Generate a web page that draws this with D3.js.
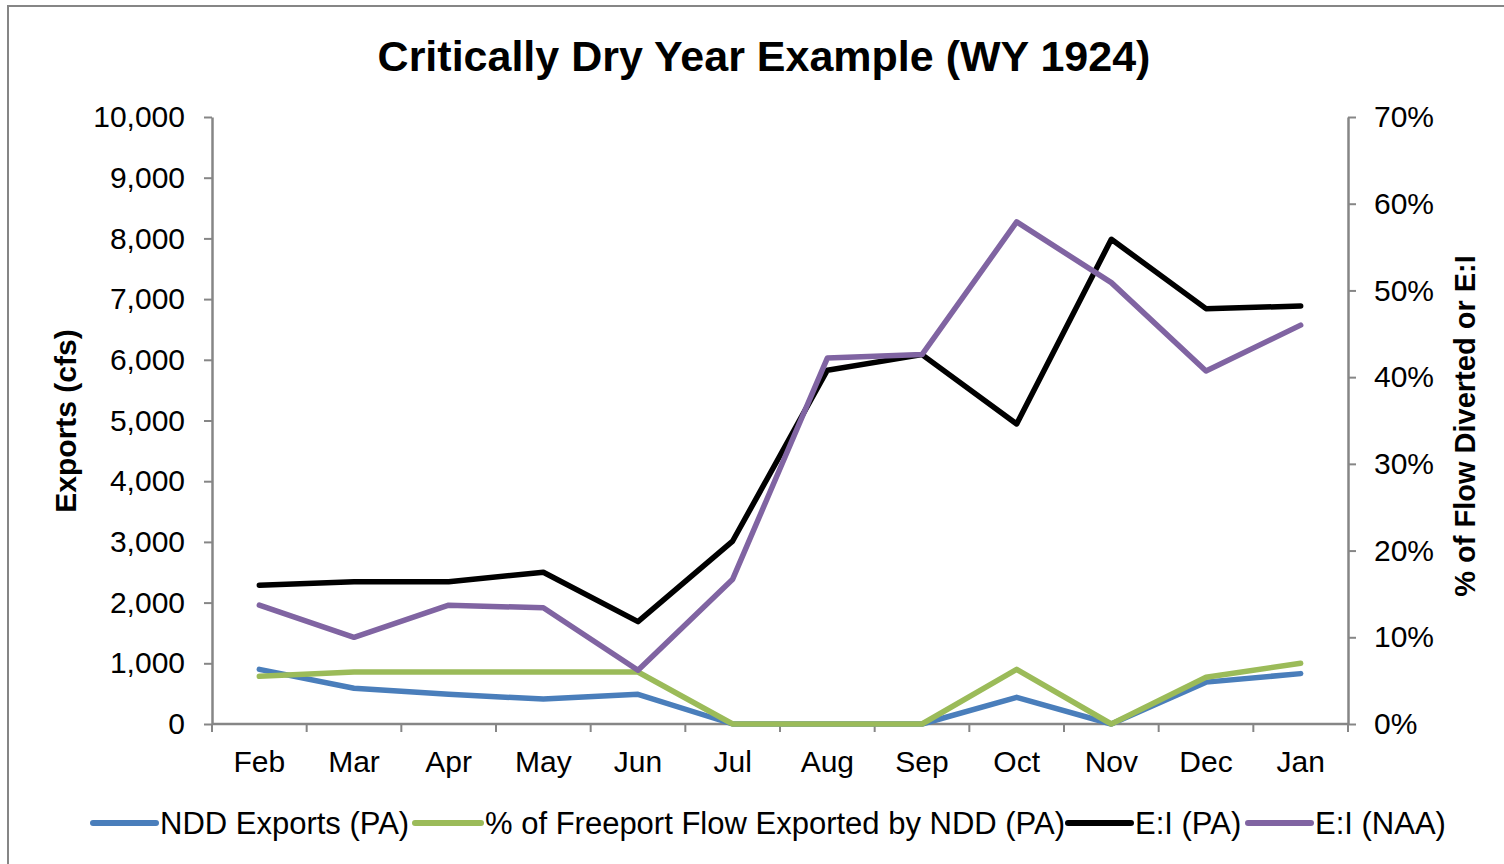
<!DOCTYPE html>
<html>
<head>
<meta charset="utf-8">
<script src="https://cdn.jsdelivr.net/npm/d3@7"></script>
<style>
  body { margin: 0; background: #fff; }
  text { font-family: "Liberation Sans", Arial, sans-serif; fill: #000; }
</style>
</head>
<body>
<div id="chart"></div>
<script>
var months = ['Feb', 'Mar', 'Apr', 'May', 'Jun', 'Jul', 'Aug', 'Sep', 'Oct', 'Nov', 'Dec', 'Jan'];
// left axis (cfs)
var nddExports = [900, 590, 490, 410, 490, 0, 0, 0, 440, 0, 690, 830];
// right axis (fraction)
var freeportPct = [0.055, 0.060, 0.060, 0.060, 0.060, 0, 0, 0, 0.063, 0, 0.054, 0.070];
var eiPA = [0.160, 0.164, 0.164, 0.175, 0.118, 0.211, 0.408, 0.426, 0.346, 0.559, 0.479, 0.482];
var eiNAA = [0.137, 0.100, 0.137, 0.134, 0.062, 0.167, 0.422, 0.426, 0.579, 0.509, 0.407, 0.460];
var leftTicks = [0, 1000, 2000, 3000, 4000, 5000, 6000, 7000, 8000, 9000, 10000];
var rightTicks = [0, 0.1, 0.2, 0.3, 0.4, 0.5, 0.6, 0.7];

var series = [
  { name: 'NDD Exports (PA)', values: nddExports, axis: 'left', color: '#4a7ebb' },
  { name: '% of Freeport Flow Exported by NDD (PA)', values: freeportPct, axis: 'right', color: '#9bbb59' },
  { name: 'E:I (PA)', values: eiPA, axis: 'right', color: '#000000' },
  { name: 'E:I (NAA)', values: eiNAA, axis: 'right', color: '#8064a2' }
];

var width = 1504, height = 864;
var plotLeft = 212, plotRight = 1348, plotTop = 117, plotBottom = 724;
var gray = '#868686';

var svg = d3.select('#chart').append('svg')
      .attr('width', width)
      .attr('height', height);

// outer frame
svg.append('rect')
  .attr('x', 8).attr('y', 6)
  .attr('width', 1520).attr('height', 880)
  .attr('fill', 'none')
  .attr('stroke', gray)
  .attr('stroke-width', 2);

var x = d3.scaleBand().domain(months).range([plotLeft, plotRight]);
var yLeft = d3.scaleLinear().domain([0, 10000]).range([plotBottom, plotTop]);
var yRight = d3.scaleLinear().domain([0, 0.7]).range([plotBottom, plotTop]);

// title
svg.append('text')
  .attr('x', 764).attr('y', 71)
  .attr('text-anchor', 'middle')
  .style('font-size', '43px')
  .style('font-weight', 'bold')
  .text('Critically Dry Year Example (WY 1924)');

function styleAxis (g) {
  g.select('.domain').attr('stroke', gray).attr('stroke-width', 2.5);
  g.selectAll('.tick line').attr('stroke', gray).attr('stroke-width', 2);
  g.selectAll('.tick text')
    .style('font-size', '30px')
    .style('font-family', '"Liberation Sans", Arial, sans-serif')
    .attr('fill', '#000');
}

// left axis
svg.append('g')
  .attr('transform', 'translate(' + plotLeft + ',0)')
  .call(d3.axisLeft(yLeft).tickValues(leftTicks).tickFormat(d3.format(',')).tickSize(8).tickPadding(19).tickSizeOuter(0))
  .call(styleAxis);

// right axis
svg.append('g')
  .attr('transform', 'translate(' + plotRight + ',0)')
  .call(d3.axisRight(yRight).tickValues(rightTicks).tickFormat(d3.format('.0%')).tickSize(8).tickPadding(18).tickSizeOuter(0))
  .call(styleAxis);

// x axis: ticks at category boundaries
var xg = svg.append('g')
  .attr('transform', 'translate(0,' + plotBottom + ')');
xg.append('line')
  .attr('x1', plotLeft).attr('x2', plotRight)
  .attr('stroke', gray).attr('stroke-width', 2.5);
var bounds = months.map(function (m) { return x(m); }).concat([plotRight]);
xg.selectAll('.xtick').data(bounds).enter().append('line')
  .attr('class', 'xtick')
  .attr('x1', function (d) { return d; }).attr('x2', function (d) { return d; })
  .attr('y1', 0).attr('y2', 8)
  .attr('stroke', gray).attr('stroke-width', 2);
xg.selectAll('.xlabel').data(months).enter().append('text')
  .attr('class', 'xlabel')
  .attr('x', function (d) { return x(d) + x.bandwidth() / 2; })
  .attr('y', 48)
  .attr('text-anchor', 'middle')
  .style('font-size', '30px')
  .text(function (d) { return d; });

// axis titles
svg.append('text')
  .attr('transform', 'translate(76,421) rotate(-90)')
  .attr('text-anchor', 'middle')
  .style('font-size', '30px')
  .style('font-weight', 'bold')
  .text('Exports (cfs)');
svg.append('text')
  .attr('transform', 'translate(1475,426) rotate(-90)')
  .attr('text-anchor', 'middle')
  .style('font-size', '29px')
  .style('font-weight', 'bold')
  .text('% of Flow Diverted or E:I');

// lines
series.forEach(function (s) {
  var yScale = s.axis === 'left' ? yLeft : yRight;
  var line = d3.line()
        .x(function (d, i) { return x(months[i]) + x.bandwidth() / 2; })
        .y(function (d) { return yScale(d); });
  svg.append('path')
    .datum(s.values)
    .attr('d', line)
    .attr('fill', 'none')
    .attr('stroke', s.color)
    .attr('stroke-width', 5.5)
    .attr('stroke-linejoin', 'round')
    .attr('stroke-linecap', 'round');
});

// legend
var legendPos = [
  { lx: 93, tx: 160 },
  { lx: 415, tx: 485 },
  { lx: 1068, tx: 1135 },
  { lx: 1248, tx: 1315 }
];
var legend = svg.append('g').attr('class', 'legend');
series.forEach(function (s, i) {
  var p = legendPos[i];
  legend.append('line')
    .attr('x1', p.lx).attr('x2', p.tx - 4)
    .attr('y1', 823).attr('y2', 823)
    .attr('stroke', s.color)
    .attr('stroke-width', 6)
    .attr('stroke-linecap', 'round');
  legend.append('text')
    .attr('x', p.tx).attr('y', 834)
    .style('font-size', '31px')
    .text(s.name);
});
</script>
</body>
</html>
